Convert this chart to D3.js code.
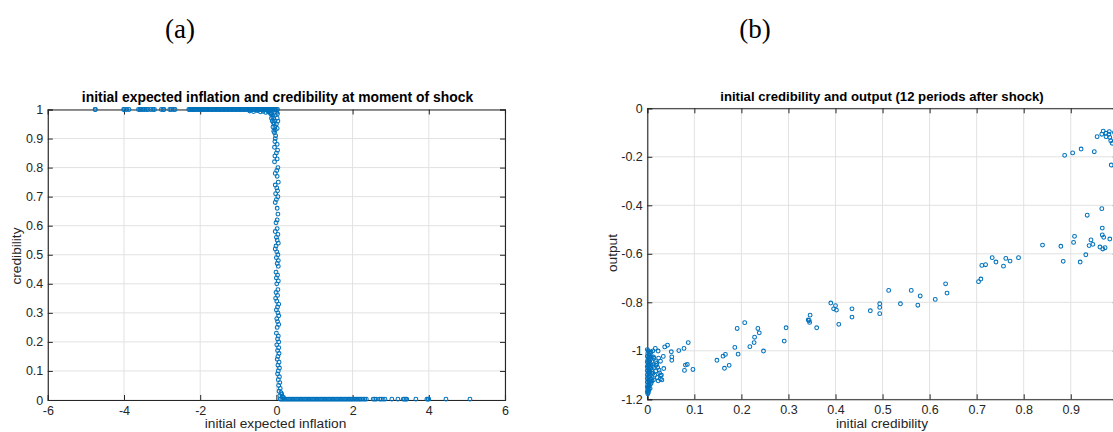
<!DOCTYPE html>
<html>
<head>
<meta charset="utf-8">
<script src="https://cdn.jsdelivr.net/npm/d3@7"></script>
<style>
  html, body { margin: 0; padding: 0; background: #fff; }
  svg { display: block; }
</style>
</head>
<body>
<svg id="chart" width="1113" height="432"></svg>
<script>
// ---------------- DATA ----------------
// Panel (a): initial expected inflation (x) vs credibility (y)
const aXTicks = [-6, -4, -2, 0, 2, 4, 6];
const aYTicks = [0, 0.1, 0.2, 0.3, 0.4, 0.5, 0.6, 0.7, 0.8, 0.9, 1];
// points sitting on credibility = 1
const aTopX = [-4.76, -4.75, -4.01, -3.99, -3.93, -3.87, -3.62, -3.58, -3.55, -3.50, -3.46, -3.41, -3.37, -3.30, -3.24, -3.20,
  -3.02, -2.97, -2.95, -2.80, -2.76, -2.70, -2.66,
  -2.30, -2.27, -2.24, -2.21, -2.18, -2.15, -2.12, -2.09, -2.05, -2.02, -1.98, -1.95, -1.92, -1.88, -1.85, -1.81, -1.78,
  -1.74, -1.71, -1.67, -1.64, -1.60, -1.57, -1.53, -1.50, -1.46, -1.43, -1.39, -1.36, -1.32, -1.29, -1.25, -1.22, -1.18,
  -1.15, -1.11, -1.08, -1.04, -1.01, -0.97, -0.94, -0.90, -0.87, -0.83, -0.80, -0.76, -0.73, -0.69, -0.66, -0.62, -0.59,
  -0.55, -0.52, -0.48, -0.45, -0.41, -0.38, -0.34, -0.31, -0.27, -0.24, -0.20, -0.17, -0.13, -0.10, -0.06, -0.03, 0.00, 0.03];
// shoulder near the top of the drop
const aShoulder = [[-0.70, 0.995], [-0.60, 0.993], [-0.50, 0.996], [-0.42, 0.992], [-0.35, 0.994], [-0.28, 0.990],
  [-0.22, 0.992], [-0.16, 0.988], [-0.12, 0.985], [-0.09, 0.98], [-0.07, 0.97], [-0.05, 0.96], [-0.06, 0.95], [-0.04, 0.94],
  [-0.03, 0.93], [-0.05, 0.92], [-0.02, 0.91], [-0.03, 0.90], [0.01, 0.99], [0.02, 0.97], [0.00, 0.95], [-0.10, 0.975],
  [-0.13, 0.97], [-0.08, 0.955], [0.03, 0.985], [-0.15, 0.985], [-0.11, 0.96], [-0.09, 0.94], [-0.07, 0.925],
  [0.04, 0.96], [0.02, 0.935], [-0.18, 0.995], [-0.14, 0.99]];
// vertical drop around zero inflation
const aDrop = [[-0.04, 0.89], [0.02, 0.88], [-0.05, 0.87], [0.03, 0.86], [0.00, 0.85], [-0.04, 0.84], [0.02, 0.83],
  [-0.05, 0.82], [0.04, 0.80], [0.01, 0.79], [-0.03, 0.78], [0.02, 0.77], [0.05, 0.75], [-0.03, 0.74], [0.01, 0.73],
  [0.03, 0.72], [-0.02, 0.71], [0.04, 0.70], [0.00, 0.69], [-0.03, 0.68], [0.02, 0.66], [0.04, 0.64], [-0.01, 0.61],
  [0.02, 0.59], [-0.03, 0.58], [0.04, 0.57], [0.00, 0.56], [0.02, 0.55], [0.05, 0.54], [-0.01, 0.53], [-0.03, 0.52],
  [0.01, 0.51], [0.04, 0.50], [0.00, 0.49], [0.02, 0.47], [0.05, 0.46], [-0.01, 0.44], [0.03, 0.43], [0.00, 0.42],
  [0.05, 0.41], [0.01, 0.40], [0.04, 0.38], [-0.01, 0.37], [0.03, 0.36], [0.01, 0.34], [0.06, 0.33], [0.03, 0.32],
  [0.00, 0.31], [0.04, 0.30], [0.06, 0.29], [0.01, 0.28], [0.03, 0.27], [0.06, 0.26], [0.02, 0.25], [0.00, 0.23],
  [0.05, 0.22], [0.03, 0.21], [0.01, 0.19], [0.06, 0.18], [0.03, 0.17], [0.07, 0.16], [0.04, 0.15], [0.02, 0.14],
  [0.07, 0.13], [0.04, 0.12], [0.08, 0.11], [0.05, 0.10], [0.03, 0.09], [0.08, 0.08], [0.05, 0.07], [0.09, 0.06],
  [0.06, 0.05], [0.10, 0.04], [0.07, 0.03], [0.12, 0.025], [0.14, 0.02], [0.09, 0.015], [0.15, 0.012], [0.17, 0.01],
  [0.19, 0.008], [0.02, 0.62], [0.05, 0.48], [-0.02, 0.35], [0.06, 0.20]];
// points sitting near credibility = 0
const aBottomX = [0.10, 0.14, 0.17, 0.21, 0.24, 0.28, 0.31, 0.35, 0.38, 0.42, 0.45, 0.49, 0.52, 0.56, 0.59, 0.63, 0.66,
  0.70, 0.73, 0.77, 0.80, 0.84, 0.87, 0.91, 0.94, 0.98, 1.01, 1.05, 1.08, 1.12, 1.15, 1.19, 1.22, 1.26, 1.29, 1.33, 1.36,
  1.40, 1.43, 1.47, 1.50, 1.54, 1.57, 1.61, 1.64, 1.68, 1.71, 1.75, 1.78, 1.82, 1.85, 1.89, 1.92, 1.96, 1.99, 2.03, 2.06,
  2.10, 2.13, 2.17, 2.20, 2.24, 2.28, 2.32, 2.36, 2.54, 2.58, 2.62, 2.71, 2.75, 2.80, 2.85, 3.03, 3.19, 3.33, 3.36, 3.40,
  3.42, 3.66, 3.95, 3.98, 4.00, 4.45, 5.08];
const aBottomY = 0.003;

// Panel (b): initial credibility (x) vs output (y); the x = 1 edge lies just outside the picture
const bXTicks = [0, 0.1, 0.2, 0.3, 0.4, 0.5, 0.6, 0.7, 0.8, 0.9];
const bYTicks = [0, -0.2, -0.4, -0.6, -0.8, -1, -1.2];
const bColumn = [[0.000, -0.995], [0.002, -1.000], [0.004, -1.005], [0.001, -1.010], [0.006, -1.012], [0.003, -1.018],
  [0.000, -1.022], [0.005, -1.026], [0.002, -1.030], [0.007, -1.034], [0.001, -1.038], [0.004, -1.042], [0.000, -1.046],
  [0.006, -1.050], [0.002, -1.054], [0.008, -1.057], [0.003, -1.060], [0.000, -1.064], [0.005, -1.067], [0.001, -1.071],
  [0.007, -1.074], [0.003, -1.078], [0.000, -1.082], [0.005, -1.085], [0.002, -1.089], [0.009, -1.092], [0.004, -1.095],
  [0.000, -1.099], [0.006, -1.102], [0.002, -1.106], [0.004, -1.110], [0.000, -1.114], [0.007, -1.117], [0.002, -1.121],
  [0.005, -1.125], [0.000, -1.129], [0.003, -1.133], [0.006, -1.137], [0.001, -1.141], [0.004, -1.145], [0.000, -1.149],
  [0.002, -1.153], [0.004, -1.157], [0.001, -1.161], [0.003, -1.165], [0.000, -1.169], [0.002, -1.173], [0.001, -1.177],
  [0.008, -1.005], [0.009, -1.025], [0.010, -1.045], [0.011, -1.065], [0.010, -1.085], [0.009, -1.115], [0.008, -1.135],
  [0.006, -1.155], [0.014, -1.03], [0.016, -1.10], [0.019, -1.06], [0.021, -1.11], [0.013, -1.12], [0.025, -1.08],
  [0.030, -1.10], [0.031, -1.12], [0.018, -1.045], [0.024, -1.03], [0.012, -1.0]];
const bScatter = [[0.887, -0.194], [0.904, -0.184], [0.922, -0.168], [0.950, -0.179], [0.956, -0.117], [0.966, -0.107],
  [0.969, -0.094], [0.975, -0.103], [0.975, -0.117], [0.981, -0.107], [0.982, -0.096], [0.983, -0.120], [0.985, -0.134],
  [0.988, -0.144], [0.986, -0.234], [0.993, -0.100], [0.996, -0.112], [0.999, -0.105],
  [0.966, -0.414], [0.935, -0.441], [0.967, -0.494], [0.908, -0.528], [0.967, -0.522], [0.970, -0.532], [0.983, -0.539],
  [0.943, -0.543], [0.906, -0.553], [0.947, -0.561], [0.939, -0.566], [0.840, -0.564], [0.879, -0.569], [0.962, -0.572],
  [0.968, -0.580], [0.973, -0.575], [0.932, -0.604], [0.884, -0.631], [0.920, -0.634],
  [0.789, -0.616], [0.771, -0.630], [0.762, -0.619], [0.757, -0.651], [0.741, -0.634], [0.733, -0.616], [0.719, -0.645],
  [0.711, -0.648], [0.709, -0.704], [0.704, -0.715], [0.634, -0.724], [0.637, -0.762], [0.612, -0.788], [0.580, -0.774],
  [0.575, -0.812], [0.561, -0.751], [0.538, -0.806], [0.513, -0.751], [0.494, -0.806], [0.494, -0.821], [0.494, -0.847],
  [0.474, -0.835], [0.435, -0.827], [0.435, -0.861], [0.407, -0.891], [0.402, -0.832], [0.400, -0.814], [0.396, -0.827],
  [0.390, -0.803], [0.360, -0.905], [0.346, -0.853], [0.344, -0.875], [0.345, -0.883], [0.342, -0.873], [0.295, -0.905],
  [0.291, -0.960], [0.247, -1.001], [0.238, -0.926], [0.235, -0.908], [0.228, -0.944], [0.227, -0.966], [0.218, -0.983],
  [0.207, -0.884], [0.191, -0.908], [0.193, -1.014], [0.186, -0.986], [0.174, -1.060], [0.166, -1.015], [0.161, -1.022],
  [0.164, -1.072], [0.148, -1.039], [0.097, -1.077], [0.087, -0.966], [0.085, -1.056], [0.081, -1.059], [0.079, -1.081],
  [0.078, -0.990], [0.067, -0.999], [0.051, -1.004], [0.052, -1.025], [0.052, -1.039], [0.043, -0.977], [0.037, -0.984],
  [0.034, -1.023], [0.035, -1.073], [0.028, -1.043], [0.028, -1.102], [0.028, -1.116], [0.023, -1.124], [0.026, -1.091],
  [0.023, -1.001], [0.017, -0.990], [0.020, -1.052], [0.015, -1.069], [0.012, -1.094], [0.010, -1.125], [0.013, -1.025],
  [0.018, -1.083], [0.022, -1.069]];

// ---------------- DRAW ----------------
const svg = d3.select("#chart");
const BLUE = "#0072BD";
const AXIS = "#262626";
const GRID = "#e2e2e2";
const SANS = "'Liberation Sans', Arial, Helvetica, sans-serif";

function panel(opt) {
  const x = d3.scaleLinear().domain(opt.xDomain).range([opt.left, opt.right]);
  const y = d3.scaleLinear().domain(opt.yDomain).range([opt.bottom, opt.top]);
  const g = svg.append("g");

  // grid
  g.append("g").selectAll("line").data(opt.xTicks).join("line")
    .attr("x1", d => x(d)).attr("x2", d => x(d)).attr("y1", opt.top).attr("y2", opt.bottom)
    .attr("stroke", GRID).attr("stroke-width", 1);
  g.append("g").selectAll("line").data(opt.yTicks).join("line")
    .attr("x1", opt.left).attr("x2", opt.right).attr("y1", d => y(d)).attr("y2", d => y(d))
    .attr("stroke", GRID).attr("stroke-width", 1);

  // axes (ticks pointing inward)
  const fmt = d => (d === 0 ? "0" : String(d));
  const bottomAxis = d3.axisBottom(x).tickValues(opt.xTicks).tickSize(-5).tickPadding(6).tickFormat(fmt);
  const topAxis = d3.axisTop(x).tickValues(opt.xTicks).tickSize(-5).tickFormat("");
  const leftAxis = d3.axisLeft(y).tickValues(opt.yTicks).tickSize(-5).tickPadding(4.5).tickFormat(fmt);
  const rightAxis = d3.axisRight(y).tickValues(opt.yTicks).tickSize(-5).tickFormat("");

  const styleAxis = sel => {
    sel.select(".domain").attr("stroke", AXIS).attr("stroke-width", 1.1);
    sel.selectAll(".tick line").attr("stroke", AXIS).attr("stroke-width", 1);
    sel.selectAll(".tick text").attr("fill", AXIS).style("font-family", SANS).style("font-size", "12.5px");
  };
  g.append("g").attr("transform", `translate(0,${opt.bottom})`).call(bottomAxis).call(styleAxis);
  g.append("g").attr("transform", `translate(0,${opt.top})`).call(topAxis).call(styleAxis);
  g.append("g").attr("transform", `translate(${opt.left},0)`).call(leftAxis).call(styleAxis);
  g.append("g").attr("transform", `translate(${opt.right},0)`).call(rightAxis).call(styleAxis);

  // points
  g.append("g").selectAll("circle").data(opt.points).join("circle")
    .attr("cx", d => x(d[0])).attr("cy", d => y(d[1])).attr("r", 1.9)
    .attr("fill", "none").attr("stroke", BLUE).attr("stroke-width", 1.05);

  // title
  g.append("text").attr("x", opt.titleX).attr("y", opt.titleY)
    .attr("text-anchor", "middle").style("font-family", SANS).style("font-weight", "bold")
    .style("font-size", opt.titleSize).attr("fill", "#000").text(opt.title);
  // x label
  g.append("text").attr("x", opt.xLabelX).attr("y", 428)
    .attr("text-anchor", "middle").style("font-family", SANS).style("font-size", "13.7px")
    .attr("fill", AXIS).text(opt.xLabel);
  // y label
  g.append("text").attr("transform", `translate(${opt.yLabelX},${opt.yLabelY}) rotate(-90)`)
    .attr("text-anchor", "middle").style("font-family", SANS).style("font-size", "13.7px")
    .attr("fill", AXIS).text(opt.yLabel);
  // panel letter
  svg.append("text").attr("x", opt.letterX).attr("y", 38).attr("text-anchor", "middle")
    .style("font-family", "'Liberation Serif', 'Times New Roman', serif").style("font-size", "27px")
    .attr("fill", "#000").text(opt.letter);
}

const aPoints = []
  .concat(aTopX.map(v => [v, 1]))
  .concat(aShoulder)
  .concat(aDrop)
  .concat(aBottomX.map(v => [v, aBottomY]));

panel({
  left: 47.8, right: 505, top: 109.5, bottom: 400,
  xDomain: [-6, 6], yDomain: [0, 1], xTicks: aXTicks, yTicks: aYTicks,
  points: aPoints,
  title: "initial expected inflation and credibility at moment of shock",
  titleX: 277.5, titleY: 102.3, titleSize: "13.9px",
  xLabel: "initial expected inflation", xLabelX: 275.5,
  yLabel: "credibility", yLabelX: 21, yLabelY: 256,
  letter: "(a)", letterX: 180
});

panel({
  left: 647.3, right: 1117.8, top: 108.3, bottom: 399.3,
  xDomain: [0, 1], yDomain: [-1.2, 0], xTicks: bXTicks, yTicks: bYTicks,
  points: bColumn.concat(bScatter),
  title: "initial credibility and output (12 periods after shock)",
  titleX: 882, titleY: 100.5, titleSize: "13.15px",
  xLabel: "initial credibility", xLabelX: 882,
  yLabel: "output", yLabelX: 617, yLabelY: 253,
  letter: "(b)", letterX: 755
});
</script>
</body>
</html>
